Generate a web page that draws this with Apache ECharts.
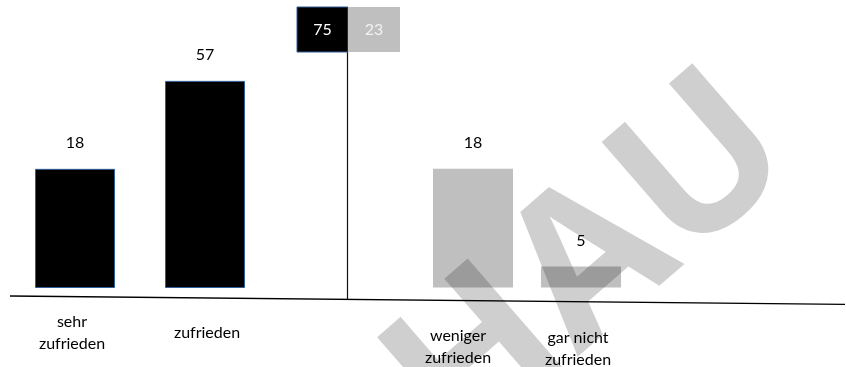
<!DOCTYPE html>
<html>
<head>
<meta charset="utf-8">
<script src="https://cdn.jsdelivr.net/npm/echarts@6/dist/echarts.min.js"></script>
<style>html,body{margin:0;padding:0;background:#fff;}#c{width:846px;height:367px;}</style>
</head>
<body>
<div id="c"></div>
<script>
// Data
var positiveCategories = ['sehr\nzufrieden', 'zufrieden'];
var positiveValues = [18, 57];
var negativeCategories = ['weniger\nzufrieden', 'gar nicht\nzufrieden'];
var negativeValues = [18, 5];
var watermarkText = 'HAU';

// Styles (kept separate from data)
var FONT = 'Lato';
var posLabelShift = [-3, 2];
var posLabelDrop = [0, 11];
var negLabelShift = [-15, -3];
var negLabelDrop = [0, 2];

function sum(a){return a.reduce(function(s,v){return s+v;},0);}
var posTotal = sum(positiveValues);
var negTotal = sum(negativeValues);

function catData(cats, shifts, drops){
  return cats.map(function(c,i){
    var s = shifts[i], d = drops[i];
    return {value:c, textStyle:{padding:[d, s<0?-2*s:0, 0, s>0?2*s:0]}};
  });
}

var chart = echarts.init(document.getElementById('c'), null, {renderer:'canvas'});
var yAxisBase = {type:'log', logBase:10, min:3.8, max:100, show:false,
  axisLine:{show:false}, splitLine:{show:false}, axisTick:{show:false}, axisLabel:{show:false}};
var xLabel = {color:'#000', fontFamily:FONT, fontSize:16, lineHeight:22, verticalAlign:'top', interval:0};

chart.setOption({
  animation:false,
  backgroundColor:'#fff',
  grid:[
    {left:10, width:260, top:38, bottom:79.5, containLabel:false, outerBoundsMode:'none'},
    {left:419, width:216, top:38, bottom:79.5, containLabel:false, outerBoundsMode:'none'}
  ],
  xAxis:[
    {type:'category', gridIndex:0, data:catData(positiveCategories, posLabelShift, posLabelDrop),
     axisLine:{show:false}, axisTick:{show:false},
     axisLabel:Object.assign({margin:23.5}, xLabel)},
    {type:'category', gridIndex:1, data:catData(negativeCategories, negLabelShift, negLabelDrop),
     axisLine:{show:false}, axisTick:{show:false},
     axisLabel:Object.assign({margin:37.5}, xLabel)}
  ],
  yAxis:[
    Object.assign({gridIndex:0}, yAxisBase),
    Object.assign({gridIndex:1}, yAxisBase)
  ],
  series:[
    {type:'bar', xAxisIndex:0, yAxisIndex:0, data:positiveValues, barWidth:80, clip:true,
     itemStyle:{color:'#000', borderColor:'#2f5f9a', borderWidth:1},
     label:{show:true, position:'top', distance:18, color:'#000', fontFamily:FONT, fontSize:16}},
    {type:'bar', xAxisIndex:1, yAxisIndex:1, data:negativeValues, barWidth:80, clip:true,
     itemStyle:{color:'#bfbfbf'},
     label:{show:true, position:'top', distance:18, color:'#000', fontFamily:FONT, fontSize:16}}
  ],
  graphic:[
    {type:'line', shape:{x1:10, y1:296, x2:845, y2:304.3}, style:{stroke:'#000', lineWidth:1.3}, z:5},
    {type:'line', shape:{x1:347.5, y1:52, x2:347.5, y2:299.3}, style:{stroke:'#111', lineWidth:1.2}, z:5},
    {type:'rect', shape:{x:297, y:7, width:51, height:45}, style:{fill:'#000', stroke:'#2f5f9a', lineWidth:1}, z:6},
    {type:'rect', shape:{x:348, y:7, width:52, height:45}, style:{fill:'#bfbfbf'}, z:6},
    {type:'text', x:322.5, y:30, style:{text:String(posTotal), fill:'#fff', font:'16px '+FONT, align:'center', verticalAlign:'middle', textAlign:'center', textVerticalAlign:'middle'}, z:7},
    {type:'text', x:374, y:30, style:{text:String(negTotal), fill:'#f2f2f2', font:'16px '+FONT, align:'center', verticalAlign:'middle', textAlign:'center', textVerticalAlign:'middle'}, z:7},
    {type:'text', x:592, y:267, rotation:41*Math.PI/180,
     style:{text:watermarkText, fill:'rgba(0,0,0,0.19)', font:'bold 205px "Open Sans"', align:'center', verticalAlign:'middle', textAlign:'center', textVerticalAlign:'middle'}, z:100, silent:true}
  ]
});
</script>
</body>
</html>
